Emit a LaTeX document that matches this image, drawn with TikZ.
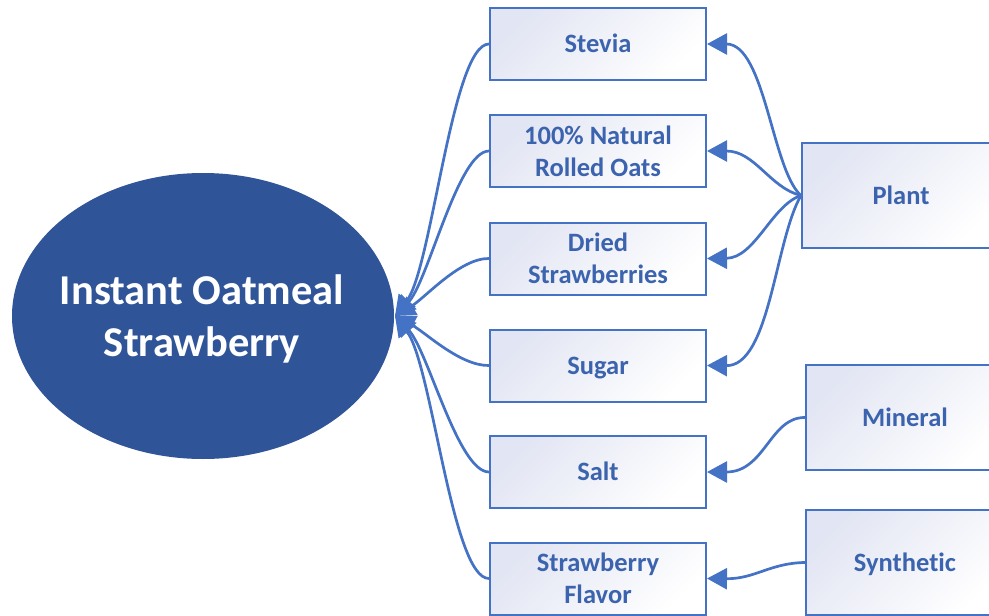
\documentclass[tikz,border=0pt]{standalone}
\usepackage{fontspec}
\setmainfont{Carlito}[Ligatures=NoCommon]
\usetikzlibrary{arrows.meta,shapes.geometric}
\definecolor{ellfill}{RGB}{48,84,152}
\definecolor{lineblue}{RGB}{68,114,196}
\definecolor{txtblue}{RGB}{59,99,174}
\definecolor{lav}{RGB}{226,229,243}
\tikzset{
  ingbox/.style={draw=lineblue, line width=2pt, top color=lav, bottom color=white, shading angle=45,
    minimum width=216pt, minimum height=72pt, inner sep=0pt, align=center,
    text=txtblue, font=\fontsize{26.5}{32}\selectfont\bfseries},
  oneline/.style={text height=19.5pt, text depth=2.5pt},
  srcbox/.style={ingbox, oneline, minimum width=198pt, minimum height=105pt},
  conn/.style={draw=lineblue, line width=2.7pt},
  arr/.style={conn, -{Triangle[length=20pt,width=21pt]}}
}
\begin{document}
\begin{tikzpicture}[x=1pt,y=-1pt]
\useasboundingbox (0,0) rectangle (989,616);
\fill[ellfill] (203,316) ellipse [x radius=191, y radius=143];
\node[text=white, align=center, font=\fontsize{42.5}{52}\selectfont\bfseries] (ell) at (202,319) {Instant Oatmeal\\Strawberry};
\coordinate (tip) at (395,316);
\node[ingbox, oneline] (st) at (598,44) {Stevia};
\node[ingbox] (oa) at (598,151) {100\% Natural\\Rolled Oats};
\node[ingbox] (dr) at (598,258.5) {Dried\\Strawberries};
\node[ingbox, oneline] (su) at (598,365.5) {Sugar};
\node[ingbox, oneline] (sa) at (598,472) {Salt};
\node[ingbox] (fl) at (598,578.5) {Strawberry\\Flavor};
\node[srcbox] (pl) at (901,195.5) {Plant};
\node[srcbox] (mi) at (905,417.5) {Mineral};
\node[srcbox] (sy) at (905,562.5) {Synthetic};
% ingredients to product
\draw[arr] (st.west) .. controls (452,44) and (432,268) .. (tip);
\draw[arr] (oa.west) .. controls (458,151) and (428,282) .. (tip);
\draw[arr] (dr.west) .. controls (460,258) and (425,298) .. (tip);
\draw[arr] (su.west) .. controls (460,366) and (425,332) .. (tip);
\draw[arr] (sa.west) .. controls (458,472) and (428,350) .. (tip);
\draw[arr] (fl.west) .. controls (452,579) and (432,364) .. (tip);
% sources to ingredients
\draw[arr] (pl.west) .. controls (772,170) and (765,44) .. (st.east);
\draw[arr] (pl.west) .. controls (770,188) and (755,151) .. (oa.east);
\draw[arr] (pl.west) .. controls (772,205) and (755,258) .. (dr.east);
\draw[arr] (pl.west) .. controls (775,240) and (770,366) .. (su.east);
\draw[arr] (mi.west) .. controls (770,417) and (765,472) .. (sa.east);
\draw[arr] (sy.west) .. controls (770,563) and (755,579) .. (fl.east);
\end{tikzpicture}
\end{document}
